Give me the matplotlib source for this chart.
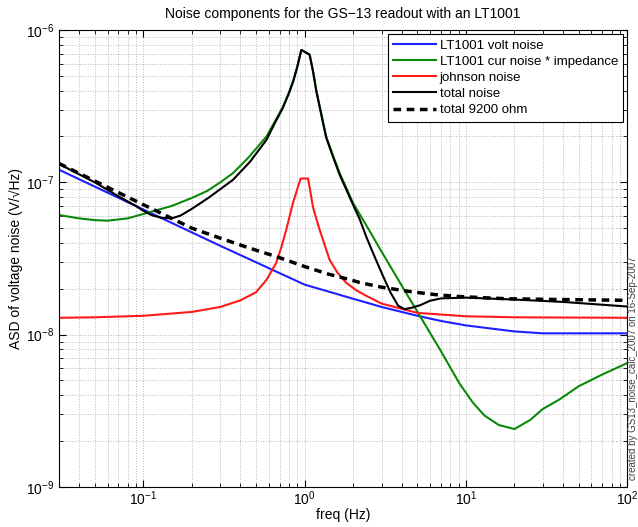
import numpy as np
import matplotlib
matplotlib.use('Agg')
import matplotlib.pyplot as plt
from matplotlib.ticker import NullFormatter

plt.rcParams['font.family'] = ['Liberation Sans', 'DejaVu Sans']
plt.rcParams['mathtext.fontset'] = 'custom'
plt.rcParams['mathtext.rm'] = 'Liberation Sans'
plt.rcParams['mathtext.it'] = 'Liberation Sans:italic'
plt.rcParams['mathtext.default'] = 'regular'

# LT1001 voltage noise
f_volt = [0.03, 0.1, 0.3, 1.0, 1.5, 2.0, 3.0, 5.0, 7.0, 10, 15, 20, 30, 100]
volt = [1.21e-7, 6.63e-8, 3.83e-8, 2.13e-8, 1.88e-8, 1.72e-8, 1.52e-8, 1.33e-8,
        1.23e-8, 1.15e-8, 1.09e-8, 1.05e-8, 1.02e-8, 1.02e-8]

# LT1001 current noise * coil impedance
f_cur = [0.03, 0.04, 0.05, 0.06, 0.08, 0.1, 0.15, 0.2, 0.25, 0.3, 0.36, 0.45, 0.58,
         0.66, 0.73, 0.8, 0.85, 0.9, 0.954, 1.048, 1.074, 1.13, 1.18, 1.26, 1.36, 1.5,
         1.65, 2.0, 2.5, 2.9, 4.0, 5.2, 7.0, 9.1, 11, 13, 16, 20, 25, 30, 38, 50, 70, 100]
cur = [6.1e-8, 5.8e-8, 5.65e-8, 5.6e-8, 5.8e-8, 6.2e-8, 7.0e-8, 7.9e-8, 8.8e-8, 1.0e-7,
       1.15e-7, 1.46e-7, 2.0e-7, 2.55e-7, 3.1e-7, 3.9e-7, 4.65e-7, 5.75e-7, 7.4e-7, 7.0e-7,
       6.9e-7, 5.3e-7, 4.05e-7, 2.92e-7, 2.0e-7, 1.5e-7, 1.15e-7, 7.3e-8, 4.9e-8, 3.73e-8,
       2.1e-8, 1.32e-8, 7.8e-9, 4.8e-9, 3.6e-9, 2.95e-9, 2.55e-9, 2.4e-9, 2.75e-9, 3.25e-9,
       3.75e-9, 4.58e-9, 5.47e-9, 6.5e-9]

# johnson noise
f_john = [0.03, 0.05, 0.1, 0.2, 0.3, 0.4, 0.5, 0.582, 0.668, 0.72, 0.77, 0.846, 0.9, 0.945,
          1.05, 1.08, 1.126, 1.18, 1.238, 1.33, 1.428, 1.6, 1.81, 2.1, 2.41, 3.0, 5.0, 10,
          20, 100]
john = [1.29e-8, 1.30e-8, 1.33e-8, 1.41e-8, 1.52e-8, 1.68e-8, 1.9e-8, 2.3e-8, 2.97e-8,
        3.8e-8, 4.9e-8, 7.3e-8, 9.0e-8, 1.06e-7, 1.06e-7, 9.0e-8, 6.9e-8, 5.8e-8, 4.9e-8,
        3.9e-8, 3.1e-8, 2.55e-8, 2.19e-8, 1.95e-8, 1.8e-8, 1.6e-8, 1.39e-8, 1.32e-8,
        1.30e-8, 1.29e-8]

# total noise
f_tot = [0.03, 0.05, 0.07, 0.09, 0.1, 0.113, 0.13, 0.15, 0.17, 0.2, 0.255, 0.36, 0.46,
         0.58, 0.66, 0.73, 0.8, 0.85, 0.9, 0.954, 1.048, 1.074, 1.13, 1.18, 1.26, 1.36,
         1.5, 1.65, 2.0, 2.2, 2.41, 2.7, 3.0, 3.4, 3.8, 4.16, 4.6, 5.2, 6.0, 7.0, 10, 20,
         40, 100]
tot = [1.32e-7, 1.0e-7, 8.1e-8, 7.0e-8, 6.5e-8, 6.08e-8, 5.85e-8, 5.8e-8, 6.05e-8, 6.7e-8,
       7.95e-8, 1.04e-7, 1.37e-7, 1.9e-7, 2.5e-7, 3.05e-7, 3.85e-7, 4.6e-7, 5.7e-7, 7.4e-7,
       7.0e-7, 6.9e-7, 5.3e-7, 4.0e-7, 2.88e-7, 1.97e-7, 1.47e-7, 1.12e-7, 7.1e-8, 5.7e-8,
       4.4e-8, 3.3e-8, 2.55e-8, 1.9e-8, 1.55e-8, 1.47e-8, 1.5e-8, 1.56e-8, 1.67e-8, 1.73e-8,
       1.75e-8, 1.7e-8, 1.64e-8, 1.53e-8]

# total with 9200 ohm
f_9200 = [0.03, 0.05, 0.08, 0.12, 0.2, 0.3, 0.456, 0.7, 1.0, 1.4, 1.9, 2.19, 3.0, 4.47,
          6.5, 9.0, 18, 40, 100]
t9200 = [1.33e-7, 1.02e-7, 8.0e-8, 6.5e-8, 5.0e-8, 4.3e-8, 3.7e-8, 3.2e-8, 2.8e-8, 2.5e-8,
         2.3e-8, 2.2e-8, 2.05e-8, 1.92e-8, 1.83e-8, 1.78e-8, 1.72e-8, 1.7e-8, 1.68e-8]

x_ticks = [0.1, 1, 10, 100]
y_ticks = [1e-9, 1e-8, 1e-7, 1e-6]

fig = plt.figure(figsize=(6.38, 5.27), dpi=100)
ax = fig.add_axes([0.0925, 0.076, 0.8905, 0.867])

ax.loglog(f_volt, volt, color='#1f1fff', lw=1.5, label='LT1001 volt noise')
ax.loglog(f_cur, cur, color='#0a8a0a', lw=1.5, label='LT1001 cur noise * impedance')
ax.loglog(f_john, john, color='#ff1a1a', lw=1.5, label='johnson noise')
ax.loglog(f_tot, tot, color='black', lw=1.5, label='total noise')
ax.loglog(f_9200, t9200, color='black', lw=2.5, ls=(0, (2.2, 1.6)), label='total 9200 ohm')

ax.set_xticks(x_ticks)
ax.set_yticks(y_ticks)
ax.set_xlim(0.03, 100)
ax.set_ylim(1e-9, 1e-6)
ax.xaxis.set_minor_formatter(NullFormatter())
ax.yaxis.set_minor_formatter(NullFormatter())
ax.grid(True, which='both', linestyle=':', color='0.72', lw=0.7)
ax.tick_params(which='both', direction='in', top=True, right=True, labelsize=10)
ax.tick_params(which='major', length=5)
ax.tick_params(which='minor', length=3)
ax.tick_params(axis='x', pad=2)
for s in ax.spines.values():
    s.set_linewidth(0.8)

ax.set_title('Noise components for the GS\u221213 readout with an LT1001', fontsize=10, pad=9)
ax.set_xlabel('freq (Hz)', fontsize=10, labelpad=0)
ax.set_ylabel('ASD of voltage noise (V/\u221aHz)', fontsize=10, labelpad=2)

leg = ax.legend(loc='upper right', fontsize=9.5, fancybox=False, framealpha=1,
                edgecolor='black', borderaxespad=0.3, handlelength=3.2,
                handletextpad=0.3, labelspacing=0.3, borderpad=0.4)
leg.get_frame().set_linewidth(0.8)

fig.text(0.992, 0.09, 'created by GS13_noise_calc_2007 on 16-Sep-2007', rotation=90,
         fontsize=7, ha='center', va='bottom', color='0.25')

fig.savefig('out.png', dpi=100)
